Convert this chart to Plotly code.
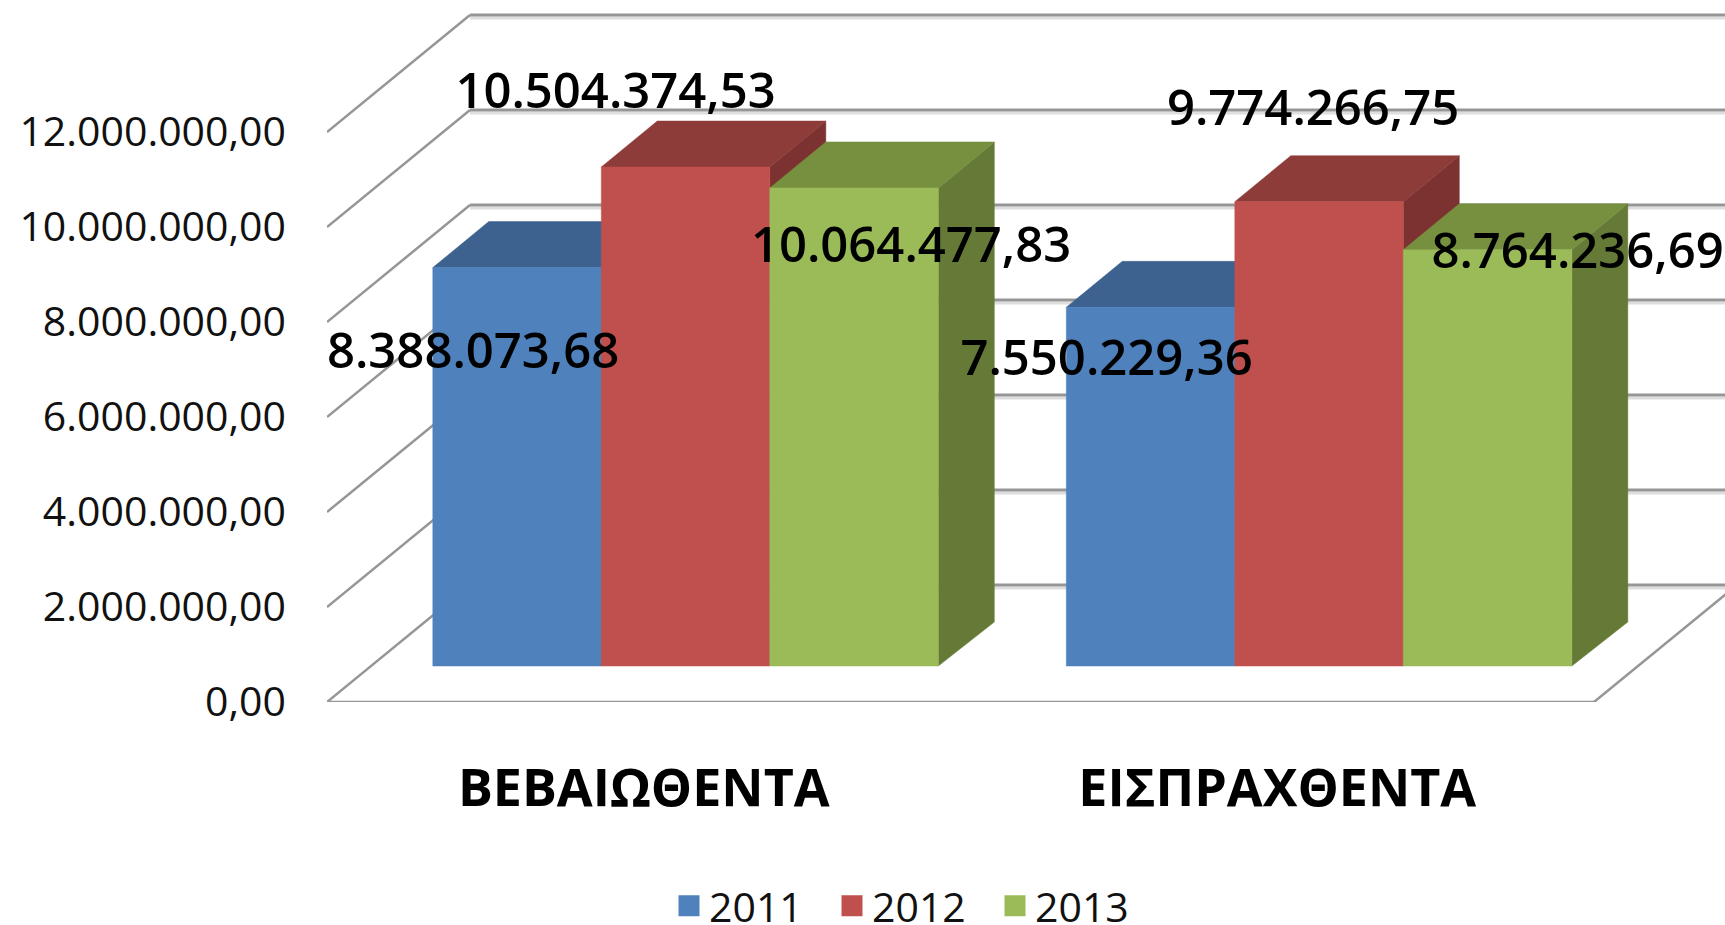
import plotly.graph_objects as go

# ---- data ----
categories = ["ΒΕΒΑΙΩΘΕΝΤΑ", "ΕΙΣΠΡΑΧΘΕΝΤΑ"]
years = ["2011", "2012", "2013"]
values_2011 = [8388073.68, 7550229.36]
values_2012 = [10504374.53, 9774266.75]
values_2013 = [10064477.83, 8764236.69]
y_ticks = [0, 2000000, 4000000, 6000000, 8000000, 10000000, 12000000]

# ---- styles ----
front_colors = ["#4F81BD", "#C0504D", "#9BBB59"]
top_colors = ["#3D628F", "#8E3C3A", "#76903F"]
side_colors = ["#355680", "#7B3230", "#667A38"]
GRID = "#969696"
SHADOW = "#DEDEDE"
W, H = 1725, 925
X_LEFT, Y_ZERO = 327, 702          # page position of the front corner of the floor
PX_PER_CAT, PX_PER_MILLION = 633.5, 47.5
ux = 1 / PX_PER_CAT                # one pixel in x-axis units
uy = 1e6 / PX_PER_MILLION          # one pixel in y-axis units
WALL_DX, WALL_DY = 143 * ux, 117 * uy   # depth of the floor
BAR_SHIFT, BAR_BASE = 0.066, 36 * uy    # bars' front plane inside the floor
BAR_W = 168.5 * ux
BAR_DX, BAR_DY = 56 * ux, 46 * uy       # depth of a bar

x_min = -0.5
x_max = x_min + (W - X_LEFT) * ux
y_max = Y_ZERO * uy


def fmt(v):
    return f"{v:,.2f}".replace(",", "#").replace(".", ",").replace("#", ".")


fig = go.Figure()


def line(xs, ys, color, width, name):
    fig.add_trace(go.Scatter(x=xs, y=ys, mode="lines", showlegend=False, hoverinfo="skip",
                             cliponaxis=False, line=dict(color=color, width=width), name=name))


def face(xs, ys, color, name):
    fig.add_trace(go.Scatter(x=xs + xs[:1], y=ys + ys[:1], mode="lines", fill="toself",
                             fillcolor=color, line=dict(color=color, width=0.5), showlegend=False,
                             hoverinfo="skip", name=name))


# walls: each gridline runs along the side wall, then across the back wall
for t in y_ticks:
    line([x_min + WALL_DX, x_max], [t + WALL_DY - 3 * uy] * 2, SHADOW, 3, "shadow")
    line([x_min, x_min + WALL_DX], [t, t + WALL_DY], GRID, 2.5, "grid side")
    line([x_min + WALL_DX, x_max], [t + WALL_DY] * 2, GRID, 3, "grid back")
# floor
floor_right = x_min + 2
line([x_min, floor_right], [-2 * uy] * 2, "#BDBDBD", 3, "floor shadow")
line([x_min, floor_right], [0, 0], GRID, 2.5, "floor")
line([floor_right, floor_right + WALL_DX], [0, WALL_DY], GRID, 2.5, "floor edge")

# bars: painted from left to right so each one hides the side of the previous one
series = [values_2011, values_2012, values_2013]
for g in range(len(categories)):
    for i, vals in enumerate(series):
        left = g + BAR_SHIFT + (i - 1.5) * BAR_W
        right = left + BAR_W
        top = BAR_BASE + vals[g]
        face([right, right + BAR_DX, right + BAR_DX, right],
             [BAR_BASE, BAR_BASE + 44 * uy, top + BAR_DY, top], side_colors[i], f"{years[i]} side")
        face([left, left + BAR_DX, right + BAR_DX, right],
             [top, top + BAR_DY, top + BAR_DY, top], top_colors[i], f"{years[i]} top")
        face([left, left, right, right], [BAR_BASE, top, top, BAR_BASE], front_colors[i], years[i])

# data labels: placed by hand in the source chart, given here as offsets from the bars' tops
label_pos = {  # (series, group): (pixels right of bar centre, pixels above bar top)
    (0, 0): (-44, -88), (1, 0): (-70, 71), (2, 0): (57, -62),
    (0, 1): (-44, -55), (1, 1): (-6, 89), (2, 1): (90, -6),
}
lx, ly, lt = [], [], []
for (i, g), (ox, oy) in label_pos.items():
    v = series[i][g]
    lx.append(g + BAR_SHIFT + (i - 1) * BAR_W + ox * ux)
    ly.append(BAR_BASE + v + oy * uy)
    lt.append(fmt(v))
fig.add_trace(go.Scatter(x=lx, y=ly, text=lt, mode="text", textposition="middle center",
                         cliponaxis=False, showlegend=False, hoverinfo="skip", name="labels",
                         textfont=dict(family="Open Sans", size=49, color="#000000", weight=600)))

# legend entries
for name, c in zip(years, front_colors):
    fig.add_trace(go.Scatter(x=[None], y=[None], mode="markers", name=name,
                             marker=dict(symbol="square", size=16, color=c, line=dict(color=c, width=5))))

fig.update_layout(
    width=W, height=H, autosize=False,
    margin=dict(l=X_LEFT, r=0, t=0, b=H - Y_ZERO, autoexpand=False),
    paper_bgcolor="white", plot_bgcolor="white",
    separators=",.",
    hovermode=False,
    font=dict(family="Open Sans", color="#111111"),
    xaxis=dict(range=[x_min, x_max], tickvals=[0, 1], ticktext=categories, showgrid=False,
               zeroline=False, showline=False, ticks="", ticklabelstandoff=51,
               tickfont=dict(family="Open Sans", size=52, color="#000000", weight=700)),
    yaxis=dict(range=[0, y_max], tickvals=y_ticks, tickformat=",.2f", showgrid=False,
               zeroline=False, showline=False, ticks="", ticklabelstandoff=40,
               tickfont=dict(family="Open Sans", size=41, color="#111111")),
    legend=dict(orientation="h", xref="paper", yref="container", x=(669 - X_LEFT) / (W - X_LEFT),
                y=(H - 906) / H, xanchor="left", yanchor="middle", entrywidth=118, entrywidthmode="pixels",
                font=dict(family="Open Sans", size=41, color="#111111"), bgcolor="rgba(0,0,0,0)",
                itemclick=False, itemdoubleclick=False),
)
fig.write_html("out.html", config={"displayModeBar": False},
               post_script="document.body.style.margin='0';document.documentElement.style.overflow='hidden';")
